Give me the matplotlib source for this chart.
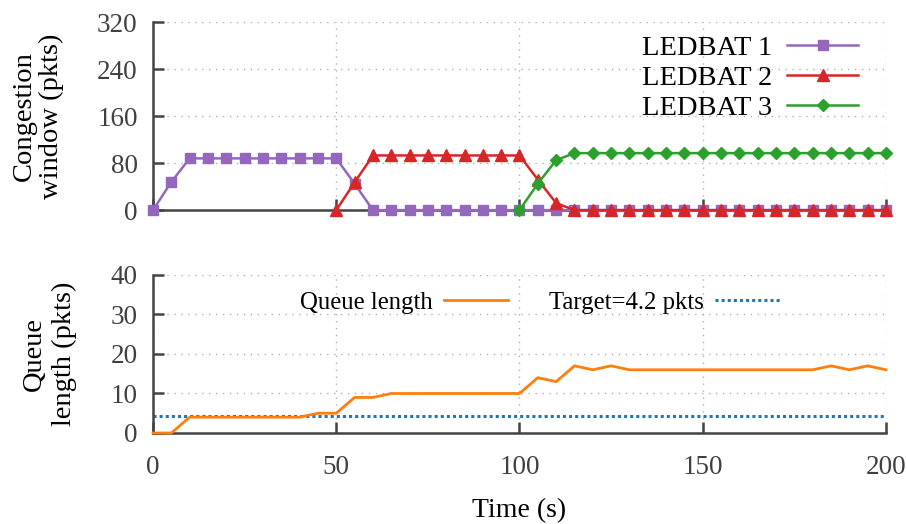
import matplotlib.pyplot as plt

plt.rcParams['font.family'] = ['Liberation Serif', 'DejaVu Serif']

# time axis, one sample every 5 s
t = list(range(0, 201, 5))

# congestion windows (pkts)
cwnd1 = [0, 48] + [88] * 9 + [45] + [0] * 29
t2 = list(range(50, 201, 5))
cwnd2 = [0, 47] + [93] * 9 + [52, 12] + [0] * 18
t3 = list(range(100, 201, 5))
cwnd3 = [0, 45, 85] + [97] * 18

# queue length (pkts)
queue = [0, 0, 4, 4, 4, 4, 4, 4, 4, 5, 5, 9, 9, 10, 10, 10, 10, 10, 10, 10, 10,
         14, 13, 17, 16, 17, 16, 16, 16, 16, 16, 16, 16, 16, 16, 16, 16, 17, 16, 17, 16]
target = 4.2

fig = plt.figure(figsize=(9.07, 5.24), dpi=100)
ax1 = fig.add_axes([0.1687, 0.599, 0.8081, 0.359])
ax2 = fig.add_axes([0.1687, 0.1737, 0.8081, 0.3015])

axis_col = '#444444'
tick_col = '#404040'

def style(ax):
    for s in ['top', 'right']:
        ax.spines[s].set_visible(False)
    for s in ['left', 'bottom']:
        ax.spines[s].set_color(axis_col)
        ax.spines[s].set_linewidth(1.8)
    ax.tick_params(direction='in', length=8, width=1.8, color=axis_col,
                   labelcolor=tick_col, labelsize=19.5)
    ax.tick_params(axis='x', pad=16)
    ax.tick_params(axis='y', pad=11)
    ax.grid(True, linestyle=(0, (1, 4)), color='#b0b0b0', linewidth=1.0)
    ax.set_axisbelow(True)
    ax.set_xlim(0, 200)
    ax.set_xticks([0, 50, 100, 150, 200])

style(ax1)
style(ax2)

ax1.plot(t, cwnd1, color='#9467bd', marker='s', markersize=7, linewidth=1.8, label='LEDBAT 1', clip_on=False, zorder=3)
ax1.plot(t2, cwnd2, color='#d62728', marker='^', markersize=8, linewidth=1.8, label='LEDBAT 2', clip_on=False, zorder=4)
ax1.plot(t3, cwnd3, color='#2ca02c', marker='D', markersize=6, linewidth=1.8, label='LEDBAT 3', clip_on=False, zorder=5)
ax1.set_ylim(0, 320)
ax1.set_yticks([0, 80, 160, 240, 320])
ax1.tick_params(axis='x', labelbottom=False)
ax1.set_ylabel('Congestion\nwindow (pkts)', fontsize=20.5, linespacing=1.1, labelpad=24)
ax1.legend(loc='center right', bbox_to_anchor=(0.962, 0.702), frameon=False, fontsize=20.5,
           markerfirst=False, handlelength=2.5, handletextpad=0.53, labelspacing=0.15,
           borderpad=0, borderaxespad=0)

ax2.plot(t, queue, color='#ff7f0e', linewidth=2.0, label='Queue length', clip_on=False, zorder=3)
ax2.plot([0, 200], [target, target], color='#1f77b4', linestyle=(0, (1, 1)), linewidth=2.2,
         label='Target=4.2 pkts', zorder=2)
ax2.set_ylim(0, 40)
ax2.set_yticks([0, 10, 20, 30, 40])
ax2.set_xlabel('Time (s)', fontsize=20, labelpad=13)
ax2.set_ylabel('Queue\nlength (pkts)', fontsize=20.5, linespacing=1.25, labelpad=24)
ax2.legend(loc='center right', bbox_to_anchor=(0.855, 0.825), frameon=False, fontsize=17.8, ncol=2,
           markerfirst=False, handlelength=2.6, handletextpad=0.45, columnspacing=1.66,
           borderpad=0, borderaxespad=0)

fig.savefig('out.png', dpi=100)
